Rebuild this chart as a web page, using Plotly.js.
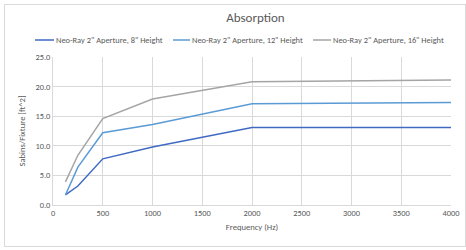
<!DOCTYPE html>
<html>
<head>
<meta charset="utf-8">
<script src="https://cdn.plot.ly/plotly-3.0.1.min.js"></script>
<style>
html,body{margin:0;padding:0;background:#fff;}
#chart{width:466px;height:250px;position:absolute;left:0;top:0;}
#frame{position:absolute;left:4px;top:4px;width:462px;height:243px;border:1px solid #d9d9d9;box-sizing:border-box;pointer-events:none;}
</style>
</head>
<body>
<div id="chart"></div>
<div id="frame"></div>
<script>
const freqs = [125, 250, 500, 1000, 2000, 4000];
const height8 = [1.7, 3.2, 7.8, 9.8, 13.1, 13.1];
const height12 = [1.7, 6.4, 12.2, 13.6, 17.1, 17.3];
const height16 = [3.9, 8.4, 14.6, 17.9, 20.8, 21.1];
const seriesNames = ['Neo-Ray 2" Aperture, 8" Height', 'Neo-Ray 2" Aperture, 12" Height', 'Neo-Ray 2" Aperture, 16" Height'];
const seriesColors = ['#4069c3', '#5b9bd5', '#a5a5a5'];
const xTicks = [0, 500, 1000, 1500, 2000, 2500, 3000, 3500, 4000];
const yTicks = [0, 5, 10, 15, 20, 25];

const allY = [height8, height12, height16];
const traces = allY.map((ys, i) => ({
  x: freqs, y: ys, type: 'scatter', mode: 'lines', name: seriesNames[i],
  line: {color: seriesColors[i], width: 1.5}
}));

// plot area in pixels
const L = 53, R = 15, T = 57, B = 45, W = 466, H = 250;
const pw = W - L - R, ph = H - T - B;
const px = x => (x - L) / pw;
const py = y => (H - B - y) / ph;

// manual legend (line sample start/end, text start) in pixels
const legendX = [[35, 54, 55], [173, 190, 191], [313, 331, 332]];
const legendY = 40;
const shapes = [], annotations = [];
legendX.forEach((p, i) => {
  shapes.push({type: 'line', xref: 'paper', yref: 'paper', x0: px(p[0]), x1: px(p[1]), y0: py(legendY), y1: py(legendY),
    line: {color: seriesColors[i], width: 1.5}});
  annotations.push({xref: 'paper', yref: 'paper', x: px(p[2]), y: py(legendY), xanchor: 'left', yanchor: 'middle',
    text: seriesNames[i], showarrow: false, font: {size: 8.4, color: '#595959'}, borderpad: 0});
});

const fontFam = 'Carlito, "Open Sans", "Liberation Sans", sans-serif';
const layout = {
  width: W, height: H,
  margin: {l: L, r: R, t: T, b: B, autoexpand: false},
  paper_bgcolor: 'rgba(0,0,0,0)', plot_bgcolor: '#fff',
  font: {family: fontFam, size: 8, color: '#595959'},
  title: {text: 'Absorption', x: 237 / W, xanchor: 'center', xref: 'paper', y: 1 - 17 / H, yanchor: 'middle', font: {size: 13, color: '#595959', family: fontFam}},
  showlegend: false,
  shapes: shapes, annotations: annotations,
  xaxis: {range: [0, 4000], tickvals: xTicks, ticktext: xTicks.map(String), showgrid: true, gridcolor: '#d9d9d9', gridwidth: 1,
    showline: true, linecolor: '#d9d9d9', zeroline: false, ticks: '', automargin: false, tickfont: {size: 8.4, color: '#595959'},
    title: {text: 'Frequency (Hz)', font: {size: 8.6, color: '#595959'}, standoff: 6}, fixedrange: true},
  yaxis: {range: [0, 25], tickvals: yTicks, ticktext: yTicks.map(v => v.toFixed(1)), showgrid: true, gridcolor: '#d9d9d9', gridwidth: 1,
    showline: true, linecolor: '#d9d9d9', zeroline: false, ticks: '', automargin: false, tickfont: {size: 8.4, color: '#595959'},
    title: {text: 'Sabins/Fixture [ft^2]', font: {size: 8.6, color: '#595959'}, standoff: 8}, fixedrange: true}
};
Plotly.newPlot('chart', traces, layout, {displayModeBar: false, staticPlot: true});
</script>
</body>
</html>
